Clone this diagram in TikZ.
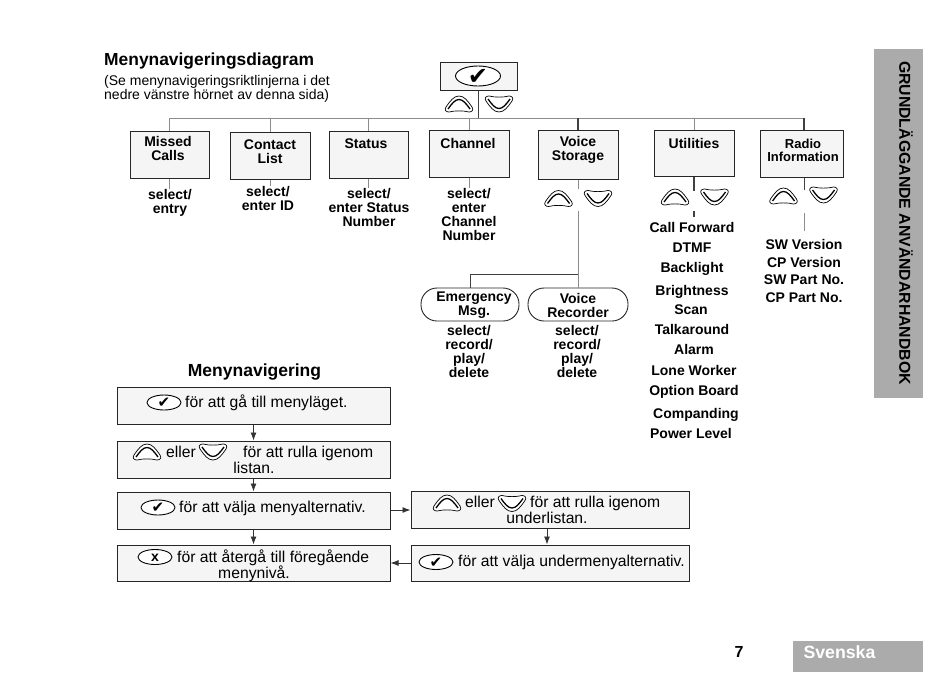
\documentclass[tikz,border=0pt]{standalone}
\usepackage{fontspec}
\setmainfont{Liberation Sans}
\newfontfamily\symfont{DejaVu Sans}
\usetikzlibrary{shapes.geometric,arrows.meta}
\newcommand{\okmark}{\makebox[0pt]{\smash{\raisebox{-.36em}{✔}}}}
\tikzset{
    menubox/.style={draw=black!85,line width=1pt,fill=black!4,inner sep=0pt},
    stepbox/.style={draw=black!85,line width=1pt,fill=black!4,inner sep=0pt,minimum width=273pt,minimum height=37pt},
    subbox/.style={draw=black!85,line width=1pt,fill=black!4,inner sep=0pt,minimum width=278pt,minimum height=37pt},
    pillbox/.style={draw=black!85,line width=.9pt,rounded corners=16pt,inner sep=0pt,minimum width=99pt,minimum height=33pt},
    lbl/.style={font=\fontsize{14}{14}\selectfont\bfseries,align=center,inner sep=0pt},
    listitem/.style={font=\fontsize{14}{14}\selectfont\bfseries,inner sep=0pt,text height=10pt,text depth=0pt},
    steptxt/.style={font=\fontsize{15.7}{16}\selectfont,anchor=west,inner sep=0pt,text height=11.5pt,text depth=0pt},
    midtxt/.style={font=\fontsize{15.7}{16}\selectfont,inner sep=0pt,text height=11.5pt,text depth=0pt},
    okkey/.style={ellipse,draw,line width=.9pt,fill=white,inner sep=0pt,minimum width=34pt,minimum height=15pt,font=\symfont\fontsize{15}{15}\selectfont},
    thin stem/.style={draw=black!45,line width=1pt},
    dark stem/.style={draw=black!75,line width=1.2pt},
    flow/.style={draw=black!80,line width=.9pt,-{Latex[length=8pt,width=6pt]}},
    upkey/.pic={
        \draw[line width=.7pt,fill=white] (-13,3) .. controls (-8.5,-3.5) and (-5,-8) .. (0,-8) .. controls (5,-8) and (8.5,-3.5) .. (13,3) .. controls (15,6) and (13,8) .. (10,8) .. controls (4,6.5) and (-4,6.5) .. (-10,8) .. controls (-13,8) and (-15,6) .. (-13,3) -- cycle;
        \draw[line width=1.3pt] (-11,5) .. controls (-7,-0.5) and (-4,-4.5) .. (0,-4.5) .. controls (4,-4.5) and (7,-0.5) .. (11,5);
    },
    downkey/.pic={
        \draw[line width=.7pt,fill=white] (-13,-3) .. controls (-8.5,3.5) and (-5,8) .. (0,8) .. controls (5,8) and (8.5,3.5) .. (13,-3) .. controls (15,-6) and (13,-8) .. (10,-8) .. controls (4,-6.5) and (-4,-6.5) .. (-10,-8) .. controls (-13,-8) and (-15,-6) .. (-13,-3) -- cycle;
        \draw[line width=1.3pt] (-11,-5) .. controls (-7,0.5) and (-4,4.5) .. (0,4.5) .. controls (4,4.5) and (7,0.5) .. (11,-5);
    },
}
\begin{document}
\begin{tikzpicture}[x=1pt,y=-1pt]
    \useasboundingbox (0,0) rectangle (950,672);

    \path
    (104,61) node[anchor=west,inner sep=0pt,font=\fontsize{17.4}{17.4}\selectfont\bfseries](title) {Menynavigeringsdiagram}
    (104,89) node[anchor=west,inner sep=0pt,align=left,font=\fontsize{14}{14.5}\selectfont](subtitle) {(Se menynavigeringsriktlinjerna i det\\nedre vänstre hörnet av denna sida)}
    (478.5,76.5) node[draw=black!85,line width=1pt,fill=black!4,inner sep=0pt,minimum width=77pt,minimum height=28.5pt](root) {}
    (478,76) node[okkey,minimum width=45pt,minimum height=20pt,font=\symfont\fontsize{24}{24}\selectfont](rootkey) {\okmark}
    (478.5,118) coordinate(hub)
    (170,118) coordinate(busl)
    (804,118) coordinate(busr);

    \path
    (169.5,154.5) node[menubox,minimum width=79pt,minimum height=47pt](missed) {}
    (270,155.5) node[menubox,minimum width=80pt,minimum height=47pt](contact) {}
    (368.5,154.5) node[menubox,minimum width=79pt,minimum height=47pt](status) {}
    (469,153.5) node[menubox,minimum width=80pt,minimum height=47pt](channel) {}
    (578,154.5) node[menubox,minimum width=80pt,minimum height=49pt](voice) {}
    (694,153) node[menubox,minimum width=80pt,minimum height=46pt](util) {}
    (801.5,153.5) node[menubox,minimum width=83pt,minimum height=47pt](radio) {};

    \path
    (168,148) node[lbl](missedtxt) {Missed\\Calls}
    (270,152) node[lbl](contacttxt) {Contact\\List}
    (366,144) node[lbl](statustxt) {Status}
    (468,143) node[lbl](channeltxt) {Channel}
    (578,150) node[lbl](voicetxt) {Voice\\Storage}
    (694,143) node[lbl](utiltxt) {Utilities}
    (803,150) node[lbl,font=\fontsize{13}{13}\selectfont\bfseries](radiotxt) {Radio\\Information}
    (170,203) node[lbl](missedsel) {select/\\entry}
    (268,198) node[lbl](contactsel) {select/\\enter ID}
    (369,207) node[lbl](statussel) {select/\\enter Status\\Number}
    (469,214) node[lbl](channelsel) {select/\\enter\\Channel\\Number}
    (469,351) node[lbl](emergsel) {select/\\record/\\play/\\delete}
    (577,351) node[lbl](recsel) {select/\\record/\\play/\\delete};

    \draw[dark stem] (root) -- (hub);
    \draw[thin stem] (busl) -- (busr);
    \draw[thin stem] (missed.north) -- (missed.north |- hub);
    \draw[thin stem] (contact.north) -- (contact.north |- hub);
    \draw[thin stem] (status.north) -- (status.north |- hub);
    \draw[thin stem] (channel.north) -- (channel.north |- hub);
    \draw[dark stem] (voice.north) -- (voice.north |- hub);
    \draw[thin stem] (util.north) -- (util.north |- hub);
    \draw[dark stem] (busr) -- (busr |- radio.north);
    \draw[thin stem] (missed.south) -- (missed.south |- missedsel.north);
    \draw[thin stem] (contact.south) -- (contact.south |- contactsel.north);
    \draw[thin stem] (status.south) -- (status.south |- statussel.north);
    \draw[thin stem] (channel.south) -- (channel.south |- channelsel.north);

    \path (459,104) pic{upkey} (499,104) pic{downkey}
    (558.5,198.5) pic{upkey} (598,198.5) pic{downkey}
    (675,197) pic{upkey} (714.5,197) pic{downkey}
    (783.5,196) pic{upkey} (823.5,195) pic{downkey};

    \path
    (578,274) coordinate(split)
    (578,211) coordinate(voicedrop)
    (694,211) coordinate(utildrop)
    (804,213) coordinate(radiodrop)
    (470,304.5) node[pillbox,minimum width=98pt](emerg) {}
    (578,304.5) node[pillbox,minimum width=100pt](rec) {}
    (474,305) node[lbl](emergtxt) {Emergency\\Msg.}
    (578,305) node[lbl](rectxt) {Voice\\Recorder};

    \draw[thin stem] (voice.south) -- +(0,9);
    \draw[thin stem] (voicedrop) -- (rec.north);
    \draw[dark stem,line width=1pt] (split) -| (emerg.north);
    \draw[dark stem] (util.south) -- +(0,14);
    \draw[dark stem] (utildrop) -- +(0,6);
    \draw[dark stem,line width=1pt] (radio.south -| radiodrop) -- +(0,12);
    \draw[thin stem] (radiodrop) -- +(0,18);

    \path
    (692,227) node[listitem](callfwd) {Call Forward}
    (692,247) node[listitem](dtmf) {DTMF}
    (692,267) node[listitem](backlight) {Backlight}
    (692,290) node[listitem](bright) {Brightness}
    (691,309) node[listitem](scan) {Scan}
    (692,329) node[listitem](talk) {Talkaround}
    (694,349) node[listitem](alarm) {Alarm}
    (694,370) node[listitem](lone) {Lone Worker}
    (694,390) node[listitem](option) {Option Board}
    (696,413) node[listitem](compand) {Companding}
    (691,433) node[listitem](power) {Power Level}
    (804,244) node[listitem](swver) {SW Version}
    (804,262) node[listitem](cpver) {CP Version}
    (804,279) node[listitem](swpart) {SW Part No.}
    (804,297) node[listitem](cppart) {CP Part No.};

    \path
    (254.5,372) node[inner sep=0pt,font=\fontsize{17.5}{17.5}\selectfont\bfseries](navtitle) {Menynavigering}
    (253.5,405.5) node[stepbox](stepa) {}
    (253.5,459.5) node[stepbox](stepb) {}
    (253.5,510.5) node[stepbox](stepc) {}
    (253.5,563) node[stepbox,minimum height=36pt](stepd) {}
    (550,510) node[subbox](suba) {}
    (550,563) node[subbox,minimum height=36pt](subb) {};

    \path
    (164,402.5) node[okkey](keya) {\okmark}
    (185,402) node[steptxt](txta) {för att gå till menyläget.}
    (166,452) node[steptxt](ellera) {eller}
    (243,452) node[steptxt](txtb) {för att rulla igenom}
    (254,468) node[midtxt](txtbb) {listan.}
    (158,507.5) node[okkey](keyc) {\okmark}
    (179,507) node[steptxt](txtc) {för att välja menyalternativ.}
    (155,557) node[okkey,text height=9pt,text depth=0pt,font=\fontsize{14}{14}\selectfont\bfseries](keyd) {x}
    (177,557) node[steptxt](txtd) {för att återgå till föregående}
    (254,573) node[midtxt](txtdd) {menynivå.}
    (465,502) node[steptxt](ellerb) {eller}
    (530,502) node[steptxt](txte) {för att rulla igenom}
    (547,518) node[midtxt](txtee) {underlistan.}
    (436,562) node[okkey](keyf) {\okmark}
    (458,561) node[steptxt](txtf) {för att välja undermenyalternativ.};

    \path (147,452) pic{upkey} (213,452) pic{downkey}
    (447,503) pic{upkey} (512,503.5) pic{downkey};

    \draw[flow] (stepa) -- (stepb);
    \draw[flow] (stepb) -- (stepc);
    \draw[flow] (stepc) -- (stepd);
    \draw[flow] (stepc.east |- suba) -- (suba);
    \draw[flow] (suba.south -| txtee) -- (subb.north -| txtee);
    \draw[flow] (subb) -- (stepd);

    \path
    (898.5,223.5) node[fill=black!33,inner sep=0pt,minimum width=49pt,minimum height=349pt](sidetab) {}
    (906,223) node[rotate=-90,inner sep=0pt,font=\fontsize{15.8}{15.8}\selectfont\bfseries](sidetxt) {GRUNDLÄGGANDE ANVÄNDARHANDBOK}
    (858,656.5) node[fill=black!33,inner sep=0pt,minimum width=130pt,minimum height=31pt](langtab) {}
    (839.5,652) node[text=white,inner sep=0pt,font=\fontsize{17.7}{17.7}\selectfont\bfseries](langtxt) {Svenska}
    (739,652) node[inner sep=0pt,font=\fontsize{16}{16}\selectfont\bfseries](pagenum) {7};
\end{tikzpicture}
\end{document}
